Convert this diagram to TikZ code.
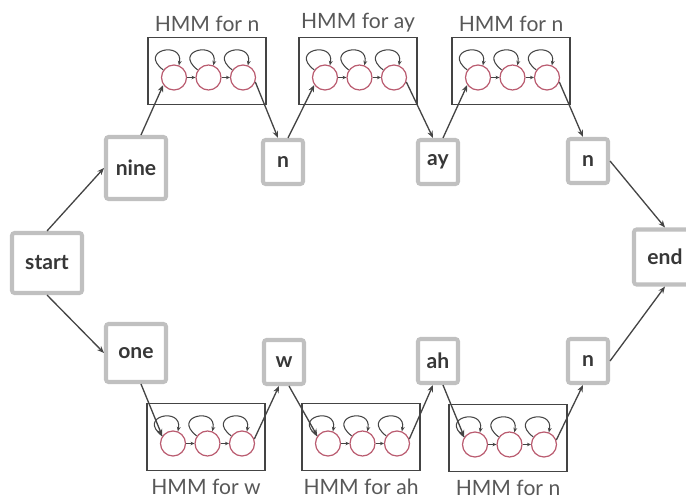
\documentclass[tikz,border=0pt]{standalone}
\usepackage{fontspec}
\setmainfont{Lato}
\usepackage{tikz}
\usetikzlibrary{positioning,arrows.meta,shadows}

\definecolor{wordEdge}{RGB}{192, 192, 192}
\definecolor{wordInk}{RGB}{55, 55, 55}
\definecolor{hmmEdge}{RGB}{68, 68, 68}
\definecolor{stateRed}{RGB}{186, 92, 112}
\definecolor{captionGray}{RGB}{88, 88, 88}

\tikzset{
    word/.style={draw=wordEdge,line width=2.3pt,fill=white,rounded corners=1.5pt,
                 minimum width=8mm,minimum height=8.8mm,inner sep=2pt,
                 font=\bfseries\fontsize{12}{14}\selectfont,text=wordInk,
                 drop shadow={shadow xshift=0.4pt,shadow yshift=-0.6pt,opacity=0.25}},
    hmmbox/.style={draw=hmmEdge,line width=1pt,minimum width=23.6mm,minimum height=13.4mm,inner sep=0pt},
    hmmcaption/.style={font=\fontsize{12}{14}\selectfont,text=captionGray},
    state/.style={circle,draw=stateRed,line width=0.7pt,minimum size=5mm,inner sep=0pt},
    link/.style={draw=hmmEdge,line width=0.75pt,-{Stealth[length=4pt,width=3.2pt]}},
    selfloop/.style={draw=hmmEdge,line width=0.6pt,-{Stealth[length=2.6pt,width=2.2pt]}},
    hop/.style={draw=hmmEdge,line width=0.6pt,-{Stealth[length=2.2pt,width=2pt]}}
}

% one phone model: frame, caption and three states with self loops
% #1 name, #2 x, #3 y, #4 caption, #5 caption side (above/below), #6 gap
\newcommand{\phonehmm}[6]{
    \node[hmmbox] (#1) at (#2,#3) {};
    \node[hmmcaption,#5=#6 of #1] (#1-cap) {#4};
    \node[state] (#1-1) at (#2-33,#3+6.5) {};
    \node[state] (#1-2) at (#2+1.5,#3+6.5) {};
    \node[state] (#1-3) at (#2+36,#3+6.5) {};
    \draw[hop] (#1-1) -- (#1-2);
    \draw[hop] (#1-2) -- (#1-3);
    \draw[selfloop] (#1-1.145) .. controls +(-26,-20) and +(5,-25) .. (#1-1.68);
    \draw[selfloop] (#1-2.145) .. controls +(-26,-20) and +(5,-25) .. (#1-2.68);
    \draw[selfloop] (#1-3.145) .. controls +(-26,-20) and +(5,-25) .. (#1-3.68);
}

\begin{document}
\begin{tikzpicture}[x=0.2mm,y=-0.2mm]
    \useasboundingbox (0,0) rectangle (686,499);

    % word level
    \node[word,minimum width=14mm,minimum height=12mm] (start) at (47,263) {start};
    \node[word,minimum width=12.4mm,minimum height=11mm] (end) at (665,257) {end};

    % "nine" path on top
    \node[word,minimum width=12mm,minimum height=12.4mm] (nine) at (136,168) {nine};
    \node[word] (n1) at (283,162) {n};
    \node[word] (ay) at (438,162) {ay};
    \node[word] (n2) at (588,161) {n};

    % "one" path below
    \node[word,minimum width=12mm,minimum height=11.6mm] (one) at (136,353) {one};
    \node[word] (w) at (284,362) {w};
    \node[word] (ah) at (438,361) {ah};
    \node[word] (n3) at (588,361) {n};

    % phone models
    \phonehmm{hn1}{207}{71}{HMM for n}{above}{-0.8pt}
    \phonehmm{hay}{358}{71}{HMM for ay}{above}{-0.8pt}
    \phonehmm{hn2}{511}{71}{HMM for n}{above}{-0.8pt}
    \phonehmm{hw}{206}{437}{HMM for w}{below}{1pt}
    \phonehmm{hah}{361}{437}{HMM for ah}{below}{1pt}
    \phonehmm{hn3}{508}{438}{HMM for n}{below}{1pt}

    % top path
    \draw[link] (start.north) -- (nine.west);
    \draw[link] ([xshift=1mm]nine.north) -- (hn1-1.215);
    \draw[link] (hn1-3.-20) -- ([xshift=-1mm]n1.north);
    \draw[link] ([xshift=1mm]n1.north) -- (hay-1.215);
    \draw[link] (hay-3.-20) -- ([xshift=-1mm]ay.north);
    \draw[link] ([xshift=1mm]ay.north) -- (hn2-1.215);
    \draw[link] (hn2-3.-20) -- ([xshift=-1mm]n2.north);
    \draw[link] (n2.east) -- (end.north);

    % bottom path
    \draw[link] (start.south) -- (one.west);
    \draw[link] ([xshift=1mm]one.south) -- (hw-1.145);
    \draw[link] (hw-3.20) -- ([xshift=-1mm]w.south);
    \draw[link] ([xshift=1mm]w.south) -- (hah-1.145);
    \draw[link] (hah-3.20) -- ([xshift=-1mm]ah.south);
    \draw[link] ([xshift=1mm]ah.south) -- (hn3-1.145);
    \draw[link] (hn3-3.20) -- ([xshift=-1mm]n3.south);
    \draw[link] (n3.east) -- (end.south);
\end{tikzpicture}
\end{document}
